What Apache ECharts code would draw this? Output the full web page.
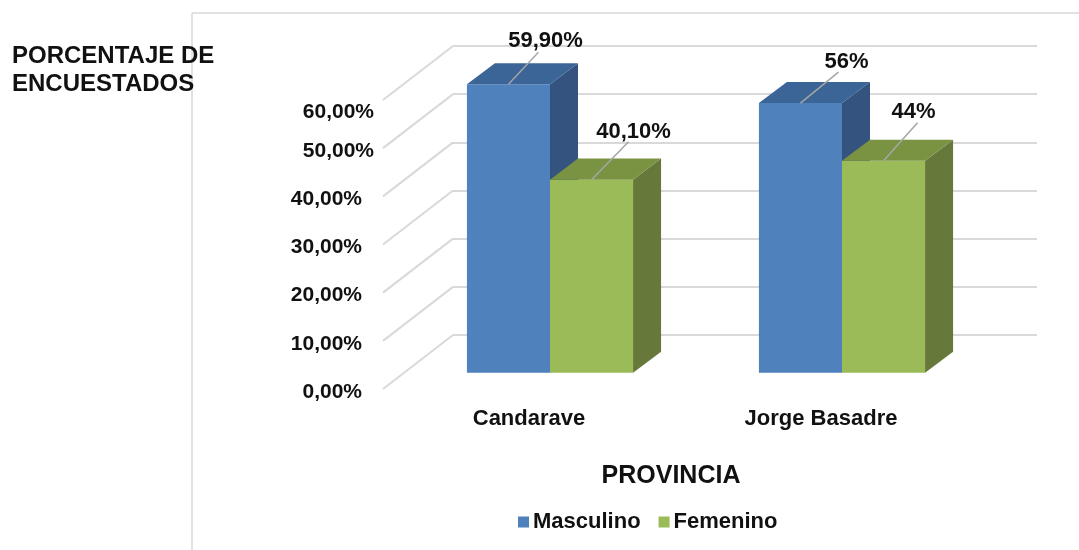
<!DOCTYPE html>
<html>
<head>
<meta charset="utf-8">
<style>
  html, body { margin: 0; padding: 0; background: #fff; }
  #chart { width: 1079px; height: 550px; }
</style>
</head>
<body>
<div id="chart"></div>
<script src="https://cdn.jsdelivr.net/npm/echarts@6/dist/echarts.min.js"></script>
<script>
const provincias = ['Candarave', 'Jorge Basadre']
const masculino = [59.9, 56]
const femenino = [40.1, 44]
const masculinoLabels = ['59,90%', '56%']
const femeninoLabels = ['40,10%', '44%']
const yTicks = [0, 10, 20, 30, 40, 50, 60]
const yTickLabels = ['0,00%', '10,00%', '20,00%', '30,00%', '40,00%', '50,00%', '60,00%']

const FONT = '"Liberation Sans", Arial, sans-serif'
const TEXT = '#111111'
const LINE = '#d9d9d9'
// perspective of the walls, front plane -> back wall
const DEPTH_X = 70
const DEPTH_Y = 54

const colorsM = { front: '#4f81bd', side: '#34547f', top: '#3b6497' }
const colorsF = { front: '#9bbb59', side: '#66783a', top: '#7a9343' }

// where each value label sits, measured from the top of its bar
const labelOffsetsM = [[37, -43, 30, -32], [46, -41, 38, -31]]
const labelOffsetsF = [[42, -48, 37, -38], [30, -49, 34, -38]]

function poly(points, color) {
  return { type: 'polygon', shape: { points }, style: { fill: color } }
}

function barRenderer(side, colors, labels, offsets) {
  return function (params, api) {
    const idx = api.value(0)
    const top = api.coord([idx, api.value(1)])
    const base = api.coord([idx, 0])
    const w = api.size([1, 0])[0] * 0.2845
    // bars stand 30% into the depth and take 40% of it
    const sx = DEPTH_X * 0.3
    const sy = DEPTH_Y * 0.3
    const dx = DEPTH_X * 0.4
    const dy = DEPTH_Y * 0.39
    const x0 = top[0] + sx + (side < 0 ? -w : 0)
    const x1 = x0 + w
    const y0 = top[1] - sy
    const y1 = base[1] - sy
    const off = offsets[params.dataIndex]
    const mid = (x0 + x1) / 2
    return {
      type: 'group',
      children: [
        poly([[x0, y1], [x1, y1], [x1, y0], [x0, y0]], colors.front),
        poly([[x1, y1], [x1 + dx, y1 - dy], [x1 + dx, y0 - dy], [x1, y0]], colors.side),
        poly([[x0, y0], [x1, y0], [x1 + dx, y0 - dy], [x0 + dx, y0 - dy]], colors.top),
        {
          type: 'line',
          shape: { x1: mid, y1: y0, x2: mid + off[2], y2: y0 + off[3] },
          style: { stroke: '#a6a6a6', lineWidth: 1.5 }
        },
        {
          type: 'text',
          style: {
            text: labels[params.dataIndex],
            x: mid + off[0],
            y: y0 + off[1],
            align: 'center',
            verticalAlign: 'middle',
            font: 'bold 22px ' + FONT,
            fill: TEXT
          }
        }
      ]
    }
  }
}

function depthLine(params, api) {
  const p = api.coord([0, api.value(1)])
  const x = params.coordSys.x
  return {
    type: 'line',
    shape: { x1: x, y1: p[1], x2: x + DEPTH_X, y2: p[1] - DEPTH_Y },
    style: { stroke: LINE, lineWidth: 2 }
  }
}

const chart = echarts.init(document.getElementById('chart'))
chart.setOption({
  animation: false,
  backgroundColor: '#fff',
  title: {
    text: 'PORCENTAJE DE\nENCUESTADOS',
    left: 12,
    top: 42,
    padding: 0,
    textStyle: { fontFamily: FONT, fontSize: 24, fontWeight: 'bold', color: TEXT, lineHeight: 28 }
  },
  legend: {
    data: ['Masculino', 'Femenino'],
    left: 518,
    top: 511,
    padding: 0,
    icon: 'rect',
    itemWidth: 11,
    itemHeight: 11,
    itemGap: 18,
    textStyle: { fontFamily: FONT, fontSize: 22, fontWeight: 'bold', color: TEXT, padding: [0, 0, 0, -1] }
  },
  graphic: [
    { type: 'line', shape: { x1: 192, y1: 13, x2: 1079, y2: 13 }, style: { stroke: LINE, lineWidth: 1.5 } },
    { type: 'line', shape: { x1: 192, y1: 13, x2: 192, y2: 550 }, style: { stroke: LINE, lineWidth: 1.5 } }
  ],
  grid: [
    // back wall
    { left: 453, width: 584, top: 46, height: 289 },
    // front plane, carries the labels and the bars
    { left: 383, width: 584, top: 100, height: 289 }
  ],
  xAxis: [
    { gridIndex: 0, type: 'category', data: provincias, show: false },
    {
      gridIndex: 1,
      type: 'category',
      data: provincias,
      axisLine: { show: false },
      axisTick: { show: false },
      axisLabel: { margin: 19, fontFamily: FONT, fontSize: 22, fontWeight: 'bold', color: TEXT },
      name: 'PROVINCIA',
      nameLocation: 'center',
      nameGap: 75,
      nameTextStyle: { fontFamily: FONT, fontSize: 25, fontWeight: 'bold', color: TEXT, padding: [0, 8, 0, 0] }
    }
  ],
  yAxis: [
    {
      gridIndex: 0,
      type: 'value',
      min: 0,
      max: 60,
      interval: 10,
      axisLine: { show: false },
      axisTick: { show: false },
      axisLabel: { show: false },
      splitLine: { lineStyle: { color: LINE, width: 2 } }
    },
    {
      gridIndex: 1,
      type: 'value',
      min: 0,
      max: 60,
      interval: 10,
      axisLine: { show: false },
      axisTick: { show: false },
      splitLine: { show: false },
      axisLabel: {
        margin: 9,
        formatter: function (value) {
          const text = yTickLabels[yTicks.indexOf(value)]
          if (value === 60) return '{hi|' + text + '}'
          if (value === 50) return '{mid|' + text + '}'
          return '{low|' + text + '}'
        },
        rich: {
          hi: { fontFamily: FONT, fontSize: 21, fontWeight: 'bold', color: TEXT, padding: [24, 0, 0, 0] },
          mid: { fontFamily: FONT, fontSize: 21, fontWeight: 'bold', color: TEXT, padding: [6, 0, 0, 0] },
          low: { fontFamily: FONT, fontSize: 21, fontWeight: 'bold', color: TEXT, padding: [6, 12, 0, 0] }
        }
      }
    }
  ],
  series: [
    {
      type: 'custom',
      name: 'paredes',
      xAxisIndex: 1,
      yAxisIndex: 1,
      silent: true,
      clip: false,
      renderItem: depthLine,
      data: yTicks.map(v => [0, v])
    },
    {
      type: 'custom',
      name: 'Masculino',
      xAxisIndex: 1,
      yAxisIndex: 1,
      clip: false,
      itemStyle: { color: colorsM.front },
      renderItem: barRenderer(-1, colorsM, masculinoLabels, labelOffsetsM),
      data: masculino.map((v, i) => [i, v])
    },
    {
      type: 'custom',
      name: 'Femenino',
      xAxisIndex: 1,
      yAxisIndex: 1,
      clip: false,
      itemStyle: { color: colorsF.front },
      renderItem: barRenderer(1, colorsF, femeninoLabels, labelOffsetsF),
      data: femenino.map((v, i) => [i, v])
    }
  ]
})
</script>
</body>
</html>
